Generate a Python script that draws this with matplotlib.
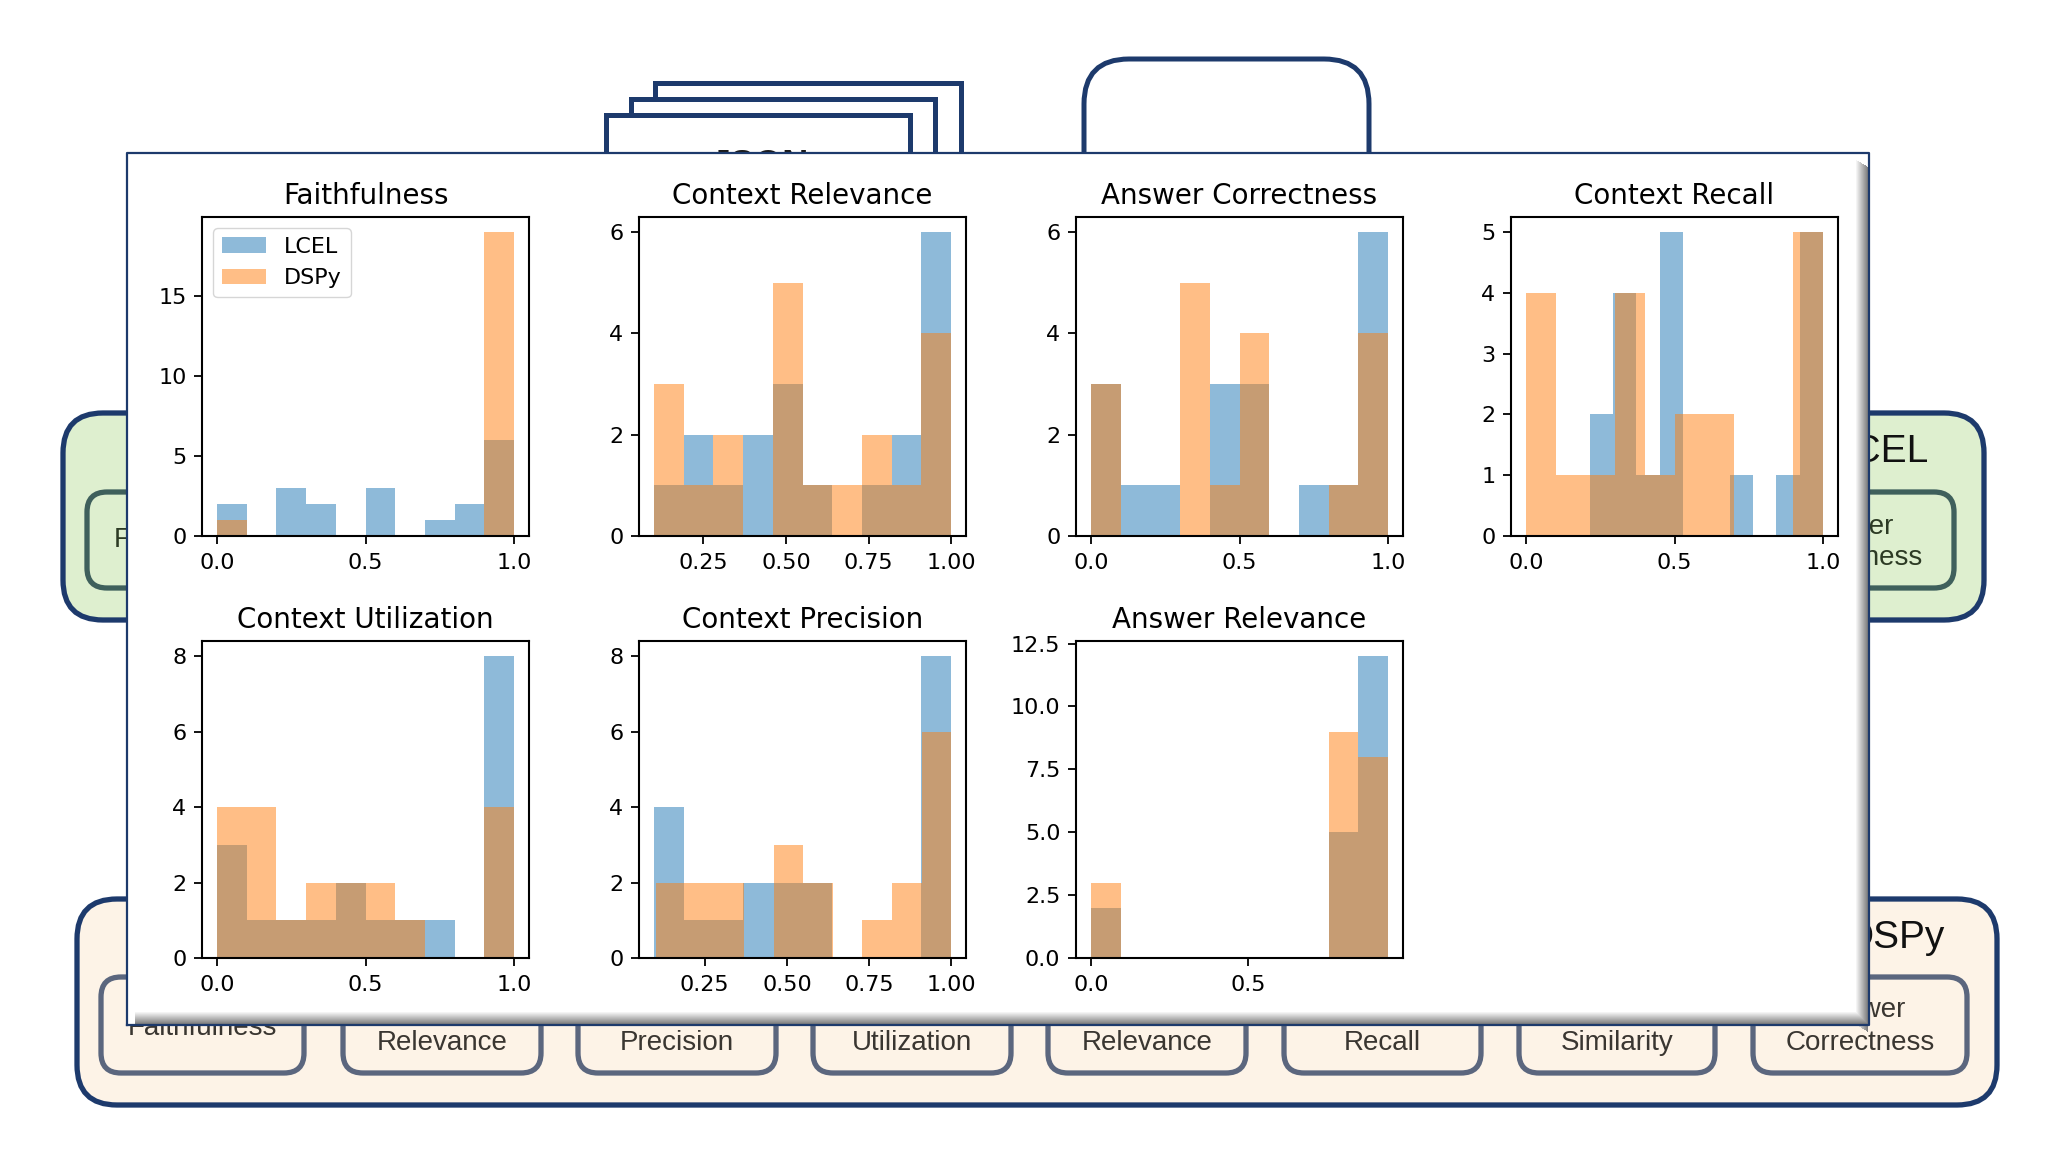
import numpy as np
import matplotlib.pyplot as plt
from matplotlib.patches import FancyBboxPatch, Rectangle

# Histogram counts (10 bins each)
faith_lcel = [2, 0, 3, 2, 0, 3, 0, 1, 2, 6]
faith_dspy = [1, 0, 0, 0, 0, 0, 0, 0, 0, 19]
faith_rng_lcel = (0.0, 1.0)
faith_rng_dspy = (0.0, 1.0)

crel_lcel = [1, 2, 1, 2, 3, 1, 0, 1, 2, 6]
crel_dspy = [3, 1, 2, 0, 5, 1, 1, 2, 1, 4]
crel_rng_lcel = (0.1, 1.0)
crel_rng_dspy = (0.1, 1.0)

acor_lcel = [3, 1, 1, 0, 3, 3, 0, 1, 1, 6]
acor_dspy = [3, 0, 0, 5, 1, 4, 0, 0, 1, 4]
acor_rng_lcel = (0.0, 1.0)
acor_rng_dspy = (0.0, 1.0)

crec_lcel = [2, 4, 1, 5, 0, 0, 1, 0, 1, 5]
crec_dspy = [4, 1, 1, 4, 1, 2, 2, 0, 0, 5]
crec_rng_lcel = (0.215, 1.0)
crec_rng_dspy = (0.0, 1.0)

cutil_lcel = [3, 1, 1, 1, 2, 1, 1, 1, 0, 8]
cutil_dspy = [4, 4, 1, 2, 2, 2, 1, 0, 0, 4]
cutil_rng_lcel = (0.0, 1.0)
cutil_rng_dspy = (0.0, 1.0)

cprec_lcel = [4, 1, 1, 2, 2, 2, 0, 0, 0, 8]
cprec_dspy = [2, 2, 2, 0, 3, 2, 0, 1, 2, 6]
cprec_rng_lcel = (0.095, 1.0)
cprec_rng_dspy = (0.1, 1.0)

arel_lcel = [2, 0, 0, 0, 0, 0, 0, 0, 5, 12]
arel_dspy = [3, 0, 0, 0, 0, 0, 0, 0, 9, 8]
arel_rng_lcel = (0.0, 0.945)
arel_rng_dspy = (0.0, 0.945)

# tick values
ticks_01 = [0.0, 0.5, 1.0]
ticks_quarter = [0.25, 0.5, 0.75, 1.0]

# background diagram labels
dspy_top = ["", "Context", "Context", "Context", "Answer", "Context", "Answer", "Answer"]
dspy_bottom = ["Faithfulness", "Relevance", "Precision", "Utilization",
               "Relevance", "Recall", "Similarity", "Correctness"]

navy = "#1d3a6c"
green = "#deefcf"
cream = "#fdf3e7"

plt.rcParams.update({
    "font.family": "DejaVu Sans",
    "axes.linewidth": 1.5,
    "xtick.major.size": 5.6,
    "ytick.major.size": 5.6,
    "xtick.major.width": 1.3,
    "ytick.major.width": 1.3,
    "xtick.major.pad": 6.5,
    "ytick.major.pad": 5.6,
    "xtick.labelsize": 16,
    "ytick.labelsize": 16,
})

fig = plt.figure(figsize=(20.48, 11.52), dpi=100)

# background diagram in pixel coordinates
bg = fig.add_axes([0, 0, 1, 1], zorder=-1)
bg.set_xlim(0, 2048)
bg.set_ylim(1152, 0)
bg.axis("off")


def rbox(x0, y0, x1, y1, r, fc, ec, lw):
    bg.add_patch(FancyBboxPatch((x0, y0), x1 - x0, y1 - y0,
                                boxstyle=f"round,pad=0,rounding_size={r}",
                                fc=fc, ec=ec, lw=lw))


# stacked JSON documents
for x0, y0, x1 in [(655, 83, 961), (631, 99, 935), (606, 115, 910)]:
    bg.add_patch(Rectangle((x0, y0), x1 - x0, 300, fc="white", ec=navy,
                           lw=3.6, joinstyle="miter"))
bg.text(760, 149, "JSON", ha="center", va="top", fontsize=26, weight="bold",
        family="Liberation Sans", color="#1a1a1a")

# rounded box at the top
rbox(1084, 59, 1369, 420, 45, "white", navy, 3.6)

# LCEL row
rbox(63, 413, 1984, 620, 40, green, navy, 3.8)
rbox(87, 492, 290, 588, 20, green, "#3f605c", 3.8)
rbox(1743, 492, 1954, 588, 20, green, "#3f605c", 3.8)
bg.text(188, 540, "Faithfulness", ha="center", va="center", fontsize=20,
        family="Liberation Sans", color="#2c3a24")
bg.text(1848, 527, "Answer", ha="center", va="center", fontsize=20,
        family="Liberation Sans", color="#2c3a24")
bg.text(1848, 558, "Correctness", ha="center", va="center", fontsize=20,
        family="Liberation Sans", color="#2c3a24")
bg.text(1929, 462, "LCEL", ha="right", va="baseline", fontsize=28,
        family="Liberation Sans", color="#111111")

# DSPy row
rbox(77, 899, 1997, 1105, 40, cream, navy, 3.8)
box_left = [101, 343, 578, 813, 1048, 1284, 1519, 1753]
box_right = [304, 541, 776, 1011, 1246, 1481, 1715, 1967]
for xl, xr, t1, t2 in zip(box_left, box_right, dspy_top, dspy_bottom):
    rbox(xl, 977, xr, 1073, 20, cream, "#5b667e", 3.8)
    xc = (xl + xr) / 2
    if t1:
        bg.text(xc, 1010, t1, ha="center", va="center", fontsize=20,
                family="Liberation Sans", color="#3a3631")
        bg.text(xc, 1043, t2, ha="center", va="center", fontsize=20,
                family="Liberation Sans", color="#3a3631")
    else:
        bg.text(xc, 1028, t2, ha="center", va="center", fontsize=20,
                family="Liberation Sans", color="#3a3631")
bg.text(1945, 948, "DSPy", ha="right", va="baseline", fontsize=28,
        family="Liberation Sans", color="#111111")

# white panel with drop shadow, drawn above the diagram texts
px0, py0, px1, py1 = 127, 153, 1869, 1025
bg.add_patch(Rectangle((px0, py0), px1 - px0, py1 - py0, fc="white", ec="none", zorder=10))
steps = 12
for i in range(steps):
    g = 1.0 - 0.5 * (i + 1) / steps
    bg.add_patch(Rectangle((1856 + i, 160 + i * 0.6), 1.05, py1 - 160,
                           fc=(g, g, g), ec="none", zorder=11))
    bg.add_patch(Rectangle((135, 1012 + i), 1856 + i - 135, 1.05,
                           fc=(g, g, g), ec="none", zorder=11))
bg.plot([px0, px1, px1, px0, px0], [py1, py1, py0, py0, py1], color=navy, lw=1.6, zorder=12)

# histogram axes
W = 327 / 2048
row1 = (1152 - 536) / 1152
row2 = (1152 - 958) / 1152
H1 = 319 / 1152
H2 = 317 / 1152
lefts = [202, 639, 1076, 1511]

panels = [
    ("Faithfulness", faith_lcel, faith_dspy, faith_rng_lcel, faith_rng_dspy,
     ticks_01, [0, 5, 10, 15], lefts[0], row1, H1),
    ("Context Relevance", crel_lcel, crel_dspy, crel_rng_lcel, crel_rng_dspy,
     ticks_quarter, [0, 2, 4, 6], lefts[1], row1, H1),
    ("Answer Correctness", acor_lcel, acor_dspy, acor_rng_lcel, acor_rng_dspy,
     ticks_01, [0, 2, 4, 6], lefts[2], row1, H1),
    ("Context Recall", crec_lcel, crec_dspy, crec_rng_lcel, crec_rng_dspy,
     ticks_01, [0, 1, 2, 3, 4, 5], lefts[3], row1, H1),
    ("Context Utilization", cutil_lcel, cutil_dspy, cutil_rng_lcel, cutil_rng_dspy,
     ticks_01, [0, 2, 4, 6, 8], lefts[0], row2, H2),
    ("Context Precision", cprec_lcel, cprec_dspy, cprec_rng_lcel, cprec_rng_dspy,
     ticks_quarter, [0, 2, 4, 6, 8], lefts[1], row2, H2),
    ("Answer Relevance", arel_lcel, arel_dspy, arel_rng_lcel, arel_rng_dspy,
     [0.0, 0.5], [0.0, 2.5, 5.0, 7.5, 10.0, 12.5], lefts[2], row2, H2),
]

for k, (title, lc, ds, rl, rd, xt, yt, left, bottom, h) in enumerate(panels):
    ax = fig.add_axes([left / 2048, bottom, W, h])
    for counts, rng, label in [(lc, rl, "LCEL"), (ds, rd, "DSPy")]:
        edges = np.linspace(rng[0], rng[1], len(counts) + 1)
        centers = (edges[:-1] + edges[1:]) / 2
        ax.hist(centers, bins=edges, weights=counts, alpha=0.5, label=label)
    ax.set_xticks(xt)
    ax.set_yticks(yt)
    ax.set_title(title, fontsize=20, pad=9)
    if k == 0:
        ax.legend(loc="upper left", fontsize=16)

fig.savefig("out.png", dpi=100)
